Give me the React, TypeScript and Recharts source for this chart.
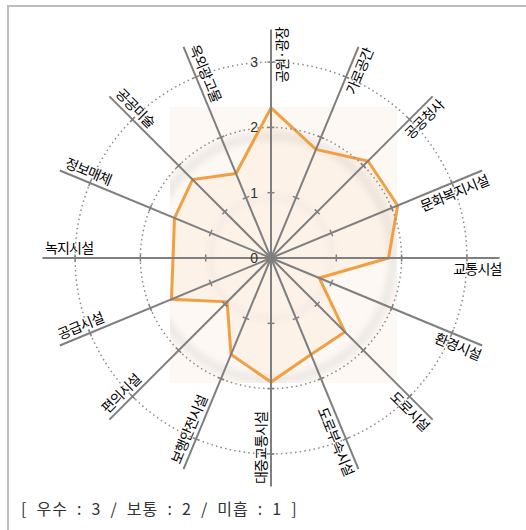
import React from 'react';
import { RadarChart, Radar, PolarAngleAxis, PolarRadiusAxis } from 'recharts';

const categories = [
  '공원·광장', '가로공간', '공공청사', '문화복지시설', '교통시설', '환경시설', '도로시설', '도로부속시설',
  '대중교통시설', '보행안전시설', '편의시설', '공급시설', '녹지시설', '정보매체', '공공미술', '옥외광고물',
];
const scores = [2.3, 1.8, 2.1, 2.1, 1.8, 0.8, 1.6, 1.6, 1.9, 1.6, 0.95, 1.65, 1.5, 1.6, 1.7, 1.4];
const radiusTicks = [0, 1, 2, 3];
const gridCircleValues = [2, 3];
const radiusDomain = [0, 4];
const spokeExtent = 3.5;
const legendText = '[ 우수 : 3 / 보통 : 2 / 미흡 : 1 ]';

const data = categories.map((name, i) => ({ name, score: scores[i] }));

const W = 526;
const H = 530;
const CX = 271;
const CY = 258;
const UNIT = 65.3;
const SCALE_R = UNIT * radiusDomain[1];
const OUTER = UNIT * spokeExtent;
const KFONT = '"Noto Sans CJK KR", "Noto Sans", sans-serif';
const toRad = (d: number) => (d * Math.PI) / 180;

const AngleTick = (props: any) => {
  const { payload, index } = props;
  const n = categories.length;
  const theta =
    payload && typeof payload.coordinate === 'number'
      ? (((90 - payload.coordinate) % 360) + 360) % 360
      : (index * 360) / n;
  const ex = CX + OUTER * Math.sin(toRad(theta));
  const ey = CY - OUTER * Math.cos(toRad(theta));
  const right = theta < 179.9;
  const rot = right ? theta - 90 : theta - 270;
  return (
    <g>
      <line x1={CX} y1={CY} x2={ex} y2={ey} stroke="#7f7f7f" strokeWidth={2} />
      <g transform={`translate(${ex},${ey}) rotate(${rot})`}>
        <text
          x={right ? 2 : 2.5}
          y={right ? 15.5 : -5}
          textAnchor={right ? 'end' : 'start'}
          fontSize={14}
          letterSpacing={-0.8}
          fontFamily={KFONT}
          fill="#000"
        >
          {payload.value}
        </text>
      </g>
    </g>
  );
};

const RadiusTick = (props: any) => {
  const { x, y, payload } = props;
  const r = Math.hypot(x - CX, y - CY);
  const n = categories.length;
  return (
    <g>
      {gridCircleValues.includes(payload.value) && (
        <circle cx={CX} cy={CY} r={r} fill="none" stroke="#8a8a8a" strokeWidth={1.5} strokeDasharray="1.5 3.2" />
      )}
      {r > 0.5 &&
        categories.map((_, i) => {
          const t = toRad((i * 360) / n);
          const px = CX + r * Math.sin(t);
          const py = CY - r * Math.cos(t);
          const ux = Math.cos(t);
          const uy = Math.sin(t);
          return (
            <line
              key={i}
              x1={px - 3.5 * ux}
              y1={py - 3.5 * uy}
              x2={px + 3.5 * ux}
              y2={py + 3.5 * uy}
              stroke="#808080"
              strokeWidth={1.5}
            />
          );
        })}
      <text
        x={x - 13}
        y={y}
        dy="0.36em"
        textAnchor="end"
        fontSize={14}
        fill="#333"
        fontFamily='"Liberation Sans", Arial, sans-serif'
      >
        {payload.value}
      </text>
    </g>
  );
};

export default function App() {
  return (
    <div style={{ position: 'absolute', left: 0, top: 0, width: W, height: H, overflow: 'hidden', background: '#fff' }}>
      <div
        style={{
          position: 'absolute',
          left: 7,
          top: 5,
          width: 700,
          height: 700,
          borderTop: '2px solid #bdbdbd',
          borderLeft: '2px solid #bdbdbd',
        }}
      />
      <div
        style={{
          position: 'absolute',
          left: 170,
          top: 107,
          width: 227,
          height: 276,
          overflow: 'hidden',
          background: '#fdf8f3',
        }}
      >
        <div
          style={{
            position: 'absolute',
            left: CX - 170 - 126,
            top: CY - 107 - 126,
            width: 252,
            height: 252,
            borderRadius: '50%',
            boxSizing: 'border-box',
            border: '8px solid rgba(175,175,175,0.22)',
            filter: 'blur(3px)',
          }}
        />
        <div
          style={{
            position: 'absolute',
            left: CX - 170 - 64,
            top: CY - 107 - 64,
            width: 128,
            height: 128,
            borderRadius: '50%',
            boxSizing: 'border-box',
            border: '6px solid rgba(200,200,200,0.12)',
            filter: 'blur(3px)',
          }}
        />
      </div>
      <div style={{ position: 'absolute', left: 0, top: 0 }}>
        <RadarChart
          width={W}
          height={H}
          data={data}
          cx={CX}
          cy={CY}
          outerRadius={SCALE_R}
          margin={{ top: 0, right: 0, bottom: 0, left: 0 }}
        >
          <Radar
            dataKey="score"
            stroke="#F0A043"
            strokeWidth={3}
            fill="#F5B060"
            fillOpacity={0.07}
            dot={false}
            isAnimationActive={false}
          />
          <PolarAngleAxis dataKey="name" tick={AngleTick} tickLine={false} axisLine={false} />
          <PolarRadiusAxis
            angle={90}
            type="number"
            domain={radiusDomain}
            ticks={radiusTicks}
            axisLine={false}
            tick={RadiusTick}
          />
        </RadarChart>
      </div>
      <div
        style={{
          position: 'absolute',
          left: 21,
          top: 498,
          fontSize: 16,
          lineHeight: '20px',
          fontFamily: KFONT,
          color: '#333',
          whiteSpace: 'pre',
          letterSpacing: 1,
          wordSpacing: 4.5,
        }}
      >
        {legendText}
      </div>
    </div>
  );
}
